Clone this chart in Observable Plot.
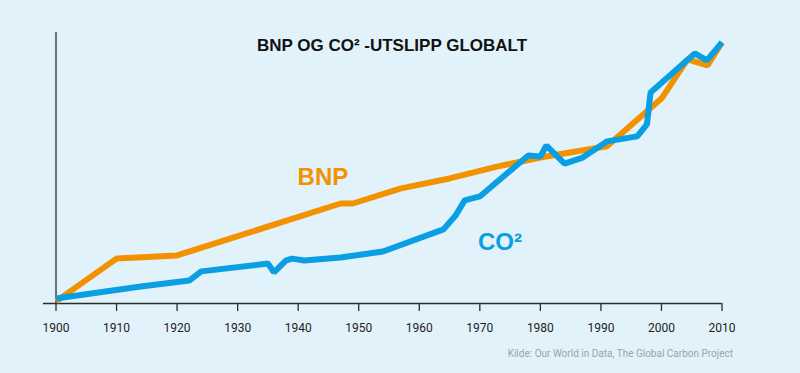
<!DOCTYPE html>
<html>
<head>
<meta charset="utf-8">
<script src="https://cdn.jsdelivr.net/npm/d3@7"></script>
<script src="https://cdn.jsdelivr.net/npm/@observablehq/plot@0.6"></script>
<style>
  html, body { margin: 0; padding: 0; background: #e2f2fb; }
  #chart svg { display: block; }
</style>
</head>
<body>
<div id="chart"></div>
<script>
// Data (index, 2010 = 100)
const bnpYears  = [1900, 1910, 1920, 1947, 1949, 1957, 1965, 1973, 1980, 1991, 2000, 2004.3, 2007.6, 2010];
const bnpValues = [0.8, 17.2, 18.4, 38.3, 38.3, 44.1, 47.9, 52.5, 55.9, 60.2, 78.5, 93.5, 91.2, 100];

const co2Years  = [1900, 1914, 1922, 1924, 1935, 1936, 1938, 1939, 1941, 1947, 1954, 1964, 1966, 1967.5, 1970, 1978, 1980, 1981, 1984, 1987, 1991, 1996, 1997.6, 1998.2, 2005.5, 2007.5, 2010];
const co2Values = [1.9, 6.5, 8.8, 12.3, 15.3, 11.9, 16.5, 17.2, 16.5, 17.6, 19.9, 28.4, 33.7, 39.5, 41.0, 56.7, 56.3, 60.5, 53.6, 55.9, 62.1, 64.0, 68.6, 80.8, 95.8, 93.1, 100];

const xTicks = [1900, 1910, 1920, 1930, 1940, 1950, 1960, 1970, 1980, 1990, 2000, 2010];

const titleText = "BNP OG CO² -UTSLIPP GLOBALT";
const sourceText = "Kilde: Our World in Data, The Global Carbon Project";
const seriesLabels = ["BNP", "CO²"];
const labelYears = [1939.9, 1969.7];
const labelValues = [45.2, 20.6];

const bnp = bnpYears.map((y, i) => ({year: y, value: bnpValues[i]}));
const co2 = co2Years.map((y, i) => ({year: y, value: co2Values[i]}));
const labels = seriesLabels.map((t, i) => ({text: t, year: labelYears[i], value: labelValues[i]}));

const ORANGE = "#f39200";
const BLUE = "#0a9fe2";
const AXIS = "#2b2b2b";

const chart = Plot.plot({
  width: 800,
  height: 373,
  marginTop: 32,
  marginBottom: 70,
  marginLeft: 55.5,
  marginRight: 78.5,
  x: {domain: [1900, 2010]},
  y: {domain: [0, 103.8], axis: null},
  style: {background: "#e2f2fb", fontFamily: "Roboto, 'Liberation Sans', sans-serif"},
  marks: [
    Plot.ruleY([0], {stroke: AXIS, strokeWidth: 1.3, insetLeft: -12.5}),
    Plot.ruleX([1900], {stroke: AXIS, strokeWidth: 1.3}),
    Plot.axisX({
      ticks: xTicks,
      tickFormat: "d",
      tickSize: 8,
      tickPadding: 12,
      stroke: AXIS,
      strokeWidth: 1.3,
      fill: "#222",
      fontSize: 12,
      style: {letterSpacing: "-0.4px"},
      label: null
    }),
    Plot.line(bnp, {x: "year", y: "value", stroke: ORANGE, strokeWidth: 6, strokeLinejoin: "miter", strokeLinecap: "butt"}),
    Plot.line(co2, {x: "year", y: "value", stroke: BLUE, strokeWidth: 6, strokeLinejoin: "miter", strokeLinecap: "butt"}),
    Plot.text(labels, {
      x: "year", y: "value", text: "text",
      fill: (d, i) => i === 0 ? ORANGE : BLUE,
      textAnchor: "start", lineAnchor: "bottom",
      fontSize: 24, fontWeight: "bold",
      fontFamily: "'Liberation Sans', Arial, sans-serif"
    }),
    Plot.text([titleText], {
      frameAnchor: "top", dx: 3, dy: 18.7, lineAnchor: "bottom",
      fontSize: 17, fontWeight: "bold", fill: "#111",
      fontFamily: "'Liberation Sans', Arial, sans-serif",
      style: {letterSpacing: "-0.2px"}
    }),
    Plot.text([sourceText], {
      frameAnchor: "bottom-right", dx: 11, dy: 53, lineAnchor: "bottom",
      textAnchor: "end", fontSize: 10, fill: "#98a3ab",
      style: {letterSpacing: "-0.35px"}
    })
  ]
});

document.getElementById("chart").appendChild(chart);
</script>
</body>
</html>
